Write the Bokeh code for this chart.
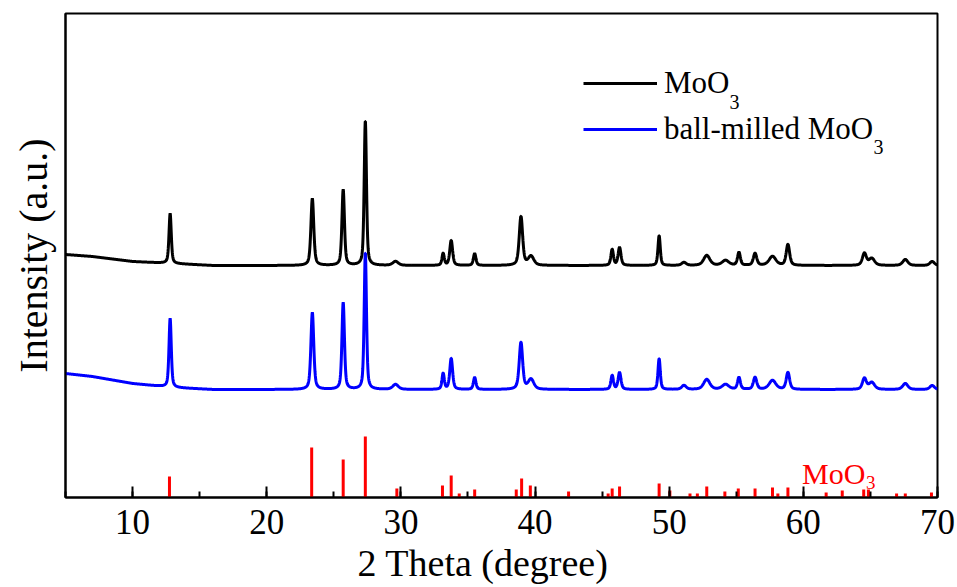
import numpy as np
from bokeh.plotting import figure
from bokeh.models import (Range1d, SingleIntervalTicker, FixedTicker, Legend,
                          LegendItem, Label, Title)
from bokeh.core.properties import value
from bokeh.embed import file_html
from bokeh.resources import INLINE

FONT = "Liberation Serif"

# Diffraction peaks: position (2θ, degree), FWHM (degree)
peak_pos = [12.8, 23.4, 25.7, 27.35, 29.6, 33.15, 33.75, 35.5, 38.95, 39.7,
            45.75, 46.3, 49.25, 51.1, 52.8, 54.2, 55.2, 56.4, 57.7, 58.85,
            64.55, 65.1, 67.6, 69.6]
peak_fwhm = [0.2, 0.25, 0.22, 0.2, 0.5, 0.2, 0.25, 0.22, 0.3, 0.5,
             0.22, 0.25, 0.2, 0.4, 0.55, 0.6, 0.25, 0.3, 0.6, 0.3,
             0.35, 0.5, 0.45, 0.4]
# Peak heights above background (a.u.)
moo3_heights = [50, 67, 76, 145, 4, 12, 25, 12, 49, 9,
                16, 18, 30, 3, 10, 5, 13, 12, 9, 21,
                12, 7, 6, 4]
milled_heights = [69, 77, 87, 137, 5, 16, 31, 12, 47, 10,
                  14, 17, 31, 4, 10, 5, 12, 12, 9, 17,
                  11, 7, 6, 4]

# Low-angle background (a.u.)
bg_theta = [5, 7, 10, 13, 16, 70]
moo3_bg = [11, 9, 4, 2, 0, 0]
milled_bg = [16, 13, 6, 2, 0, 0]

# Vertical stacking offsets of the two patterns
moo3_offset = 232
milled_offset = 108

# Standard MoO3 reference lines
ref_pos = [12.75, 23.35, 25.7, 27.35, 29.7, 33.1, 33.75, 34.35, 35.5, 38.6,
           39.0, 39.65, 42.5, 45.45, 45.75, 46.3, 49.25, 50.05, 51.55, 52.1,
           52.8, 54.15, 55.15, 56.4, 57.7, 58.1, 58.85, 61.7, 62.9, 64.5,
           64.85, 66.95, 67.6, 69.55]
ref_int = [21, 50, 38, 61, 9, 12, 22, 4, 8, 8,
           19, 12, 6, 4, 9, 11, 14, 7, 4, 4,
           11, 6, 9, 9, 10, 4, 10, 5, 7, 8,
           8, 4, 4, 5]

x_ticks_interval = 10


def pseudo_voigt(x, x0, fwhm, eta=0.5):
    d = (x - x0) / fwhm
    return eta / (1.0 + 4.0 * d * d) + (1.0 - eta) * np.exp(-4.0 * np.log(2) * d * d)


def pattern(x, heights, bg, offset):
    y = np.interp(x, bg_theta, bg) + offset
    for x0, w, h in zip(peak_pos, peak_fwhm, heights):
        y = y + h * pseudo_voigt(x, x0, w)
    return y


theta = np.arange(5.0, 70.0001, 0.02)
y_moo3 = pattern(theta, moo3_heights, moo3_bg, moo3_offset)
y_milled = pattern(theta, milled_heights, milled_bg, milled_offset)

p = figure(width=957, height=587, x_range=Range1d(5, 70), y_range=Range1d(0, 484),
           output_backend="svg", toolbar_location=None,
           min_border_left=65, min_border_right=20, min_border_top=13,
           min_border_bottom=90)
p.background_fill_color = "white"
p.border_fill_color = "white"
p.outline_line_color = "black"
p.outline_line_width = 2
p.xgrid.visible = False
p.ygrid.visible = False

r_black = p.line(theta, y_moo3, line_color="black", line_width=3)
r_blue = p.line(theta, y_milled, line_color="#0000ff", line_width=3)
p.segment(x0=ref_pos, y0=[0] * len(ref_pos), x1=ref_pos, y1=ref_int,
          line_color="#ff0000", line_width=3)

# x axis: inward ticks, serif labels
xa = p.xaxis[0]
xa.ticker = SingleIntervalTicker(interval=x_ticks_interval, num_minor_ticks=2)
xa.axis_line_color = "black"
xa.axis_line_width = 2
xa.major_tick_in = 11
xa.major_tick_out = 0
xa.minor_tick_in = 6
xa.minor_tick_out = 0
xa.major_tick_line_width = 2
xa.minor_tick_line_width = 2
xa.major_tick_line_color = "black"
xa.minor_tick_line_color = "black"
xa.major_label_text_font = FONT
xa.major_label_text_font_size = "35px"
xa.major_label_text_color = "black"
xa.major_label_standoff = 12

# x axis title, below the tick labels
p.add_layout(Title(text="2 Theta (degree)", align="left", offset=292, standoff=6,
                   text_font=FONT, text_font_size="38px",
                   text_font_style="normal", text_color="black"), "below")

# y axis: label only
ya = p.yaxis[0]
ya.ticker = FixedTicker(ticks=[])
ya.axis_line_color = "black"
ya.axis_line_width = 2
ya.axis_label = "Intensity (a.u.)"
ya.axis_label_text_font = FONT
ya.axis_label_text_font_size = "40px"
ya.axis_label_text_font_style = "normal"
ya.axis_label_text_color = "black"
ya.axis_label_standoff = 10

legend = Legend(items=[LegendItem(label="MoO", renderers=[r_black]),
                       LegendItem(label="ball-milled MoO", renderers=[r_blue])],
                location=(518, 348), border_line_color=None,
                background_fill_alpha=0, padding=0, margin=0, spacing=6,
                glyph_width=74, glyph_height=40, label_height=40,
                label_standoff=7, label_text_font=FONT,
                label_text_font_size="31px", label_text_color="black")
p.add_layout(legend)

for sx, sy in [(664, 396), (808, 351)]:
    p.add_layout(Label(x=sx, y=sy, x_units="screen", y_units="screen", text="3",
                       text_font=FONT, text_font_size="20px",
                       text_baseline="alphabetic", text_color="black"))

# reference pattern tag
p.text(x=[59.9], y=[24], text=["MoO"], text_color="#ff0000",
       text_font=value(FONT), text_font_size="30px", text_baseline="alphabetic")
p.text(x=[59.9], y=[24], text=["3"], x_offset=64, y_offset=9, text_color="#ff0000",
       text_font=value(FONT), text_font_size="19px", text_baseline="alphabetic")

open("out.html", "w").write(file_html(p, INLINE))
